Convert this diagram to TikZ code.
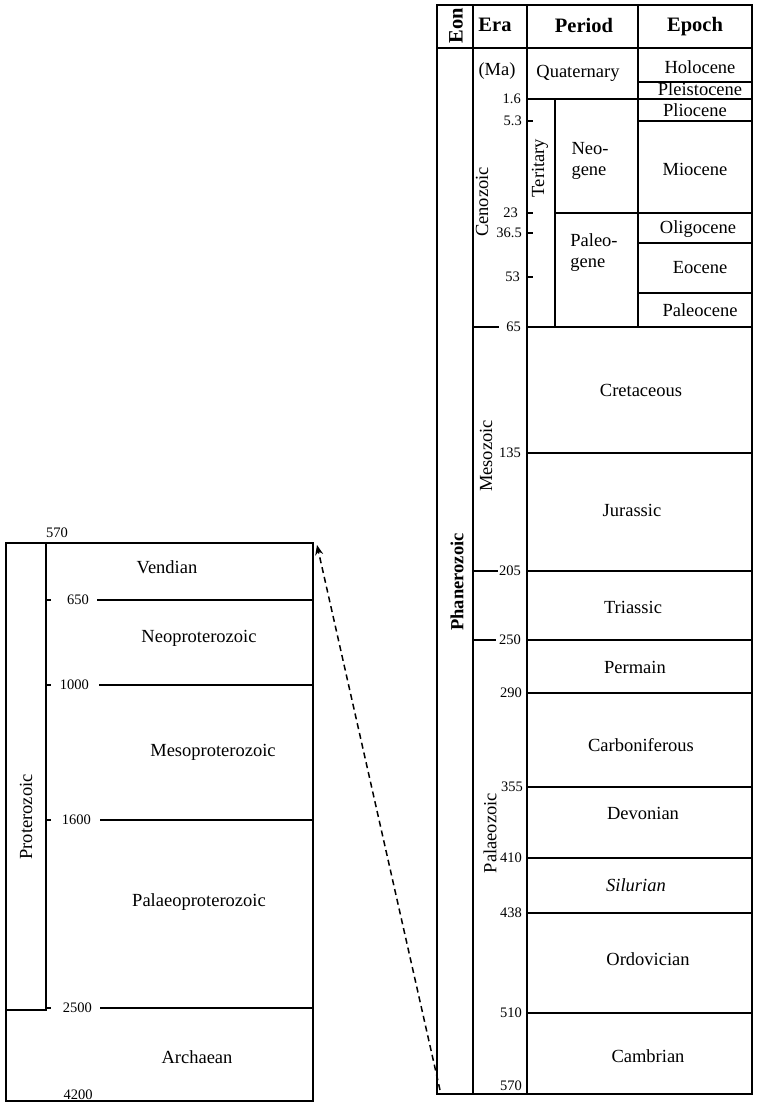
\documentclass[tikz,border=0pt]{standalone}
\usepackage{fontspec}
\setmainfont{Liberation Serif}
\usetikzlibrary{arrows.meta}

\begin{document}
\begin{tikzpicture}[x=1pt, y=-1pt, font=\fontsize{18.5}{21}\selectfont]
    \tikzstyle{frame} = [line width=2.6pt]
    \tikzstyle{rule} = [line width=1.5pt]
    \tikzstyle{tick} = [line width=1.2pt]
    \tikzstyle{unit} = [inner sep=0pt, align=center]
    \tikzstyle{head} = [inner sep=0pt, font=\fontsize{20.5}{23}\selectfont\bfseries]
    \tikzstyle{age} = [inner sep=0pt, anchor=east, font=\fontsize{14.5}{16}\selectfont]
    \tikzstyle{link} = [line width=1.5pt, dash pattern=on 6pt off 4pt, -{Stealth[length=10pt, width=8pt]}]

    \useasboundingbox (0,0) rectangle (757,1103);

    % Phanerozoic chart
    \draw [frame] (437,5) rectangle (752,1094);
    \draw [rule] (437,48) -- (752,48);
    \draw [rule] (473,5) -- (473,1094);
    \draw [rule] (527,5) -- (527,1094);
    \draw [rule] (638,5) -- (638,327);
    \draw [rule] (555,99) -- (555,327);
    \draw [rule] (527,99) -- (638,99);
    \draw [rule] (555,213) -- (752,213);
    \draw [rule] (638,82) -- (752,82);
    \draw [rule] (638,99) -- (752,99);
    \draw [rule] (638,121) -- (752,121);
    \draw [rule] (638,243) -- (752,243);
    \draw [rule] (638,293) -- (752,293);

    % Headers
    \node [head, rotate=90] (eon) at (456,26) {Eon};
    \node [head] (era) at (495,25) {Era};
    \node [head] (period) at (584,25) {Period};
    \node [head] (epoch) at (695,27) {Epoch};

    % Cenozoic
    \node [unit] (ma) at (497,71) {(Ma)};
    \node [unit] (quaternary) at (578,73) {Quaternary};
    \node [unit, rotate=90] (tertiary) at (540,168) {Teritary};
    \node [inner sep=0pt, align=left] (neogene) at (590,161) {Neo-\\gene};
    \node [inner sep=0pt, align=left] (paleogene) at (594,253) {Paleo-\\gene};
    \node [unit] (holocene) at (700,67) {Holocene};
    \node [unit] (pleistocene) at (700,89) {Pleistocene};
    \node [unit] (pliocene) at (695,110) {Pliocene};
    \node [unit] (miocene) at (695,169) {Miocene};
    \node [unit] (oligocene) at (698,229) {Oligocene};
    \node [unit] (eocene) at (700,268) {Eocene};
    \node [unit] (paleocene) at (700,310) {Paleocene};

    \node [age] (ma_1_6) at (521,99) {1.6};
    \node [age] (ma_5_3) at (522,121) {5.3};
    \node [age] (ma_23) at (518,213) {23};
    \node [age] (ma_36_5) at (522,233) {36.5};
    \node [age] (ma_53) at (520,277) {53};
    \draw [tick] (ma_5_3.east) ++(5,0) -- ++(6,0);
    \draw [tick] (ma_23.east) ++(9,0) -- ++(6,0);
    \draw [tick] (ma_36_5.east) ++(5,0) -- ++(6,0);
    \draw [tick] (ma_53.east) ++(7,0) -- ++(6,0);

    % Periods
    \node [age] (ma_65) at (521,327) {65};
    \node [age] (ma_135) at (521,453) {135};
    \node [age] (ma_205) at (521,571) {205};
    \node [age] (ma_250) at (521,640) {250};
    \node [age] (ma_290) at (522,693) {290};
    \node [age] (ma_355) at (523,787) {355};
    \node [age] (ma_410) at (522,858) {410};
    \node [age] (ma_438) at (522,913) {438};
    \node [age] (ma_510) at (522,1013) {510};
    \node [age] (ma_570) at (522,1086) {570};
    \draw [rule] (473,327) -- (499,327);
    \draw [rule] (473,571) -- (498,571);
    \draw [rule] (473,640) -- (496,640);
    \draw [rule] (527,327) -- (752,327);
    \draw [rule] (527,453) -- (752,453);
    \draw [rule] (527,571) -- (752,571);
    \draw [rule] (527,640) -- (752,640);
    \draw [rule] (527,693) -- (752,693);
    \draw [rule] (527,787) -- (752,787);
    \draw [rule] (527,858) -- (752,858);
    \draw [rule] (527,913) -- (752,913);
    \draw [rule] (527,1013) -- (752,1013);

    \node [unit] (cretaceous) at (641,390) {Cretaceous};
    \node [unit] (jurassic) at (632,510) {Jurassic};
    \node [unit] (triassic) at (633,607) {Triassic};
    \node [unit] (permain) at (635,667) {Permain};
    \node [unit] (carboniferous) at (641,745) {Carboniferous};
    \node [unit] (devonian) at (643,813) {Devonian};
    \node [unit, font=\fontsize{18.5}{21}\selectfont\itshape] (silurian) at (636,885) {Silurian};
    \node [unit] (ordovician) at (648,959) {Ordovician};
    \node [unit] (cambrian) at (648,1056) {Cambrian};

    % Eons and eras
    \node [unit, rotate=90, font=\fontsize{18.5}{21}\selectfont\bfseries] (phanerozoic) at (457,582) {Phanerozoic};
    \node [unit, rotate=90] (cenozoic) at (482,202) {Cenozoic};
    \node [unit, rotate=90] (mesozoic) at (486,456) {Mesozoic};
    \node [unit, rotate=90] (palaeozoic) at (490,833) {Palaeozoic};

    % Precambrian chart
    \draw [frame] (6,543) rectangle (313,1101);
    \draw [rule] (46,543) -- (46,1010) -- (6,1010);
    \node [age, anchor=center] (ma_570b) at (57,533) {570};
    \node [age] (ma_650) at (89,600) {650};
    \node [age] (ma_1000) at (89,685) {1000};
    \node [age] (ma_1600) at (91,820) {1600};
    \node [age] (ma_2500) at (92,1008) {2500};
    \node [age, anchor=center] (ma_4200) at (78,1095) {4200};
    \draw [tick] (46,600) -- (51,600);
    \draw [tick] (46,685) -- (51,685);
    \draw [tick] (46,820) -- (51,820);
    \draw [tick] (46,1008) -- (51,1008);
    \draw [rule] (97,600) -- (313,600);
    \draw [rule] (99,685) -- (313,685);
    \draw [rule] (100,820) -- (313,820);
    \draw [rule] (100,1008) -- (313,1008);

    \node [unit] (vendian) at (167,567) {Vendian};
    \node [unit] (neoproterozoic) at (199,638) {Neoproterozoic};
    \node [unit] (mesoproterozoic) at (213,752) {Mesoproterozoic};
    \node [unit] (palaeoproterozoic) at (199,902) {Palaeoproterozoic};
    \node [unit] (archaean) at (197,1057) {Archaean};
    \node [unit, rotate=90] (proterozoic) at (26,817) {Proterozoic};

    % Link
    \coordinate (cambrian_foot) at (440,1090);
    \coordinate (vendian_top) at (317,545);
    \draw [link] (cambrian_foot) -- (vendian_top);
\end{tikzpicture}
\end{document}
